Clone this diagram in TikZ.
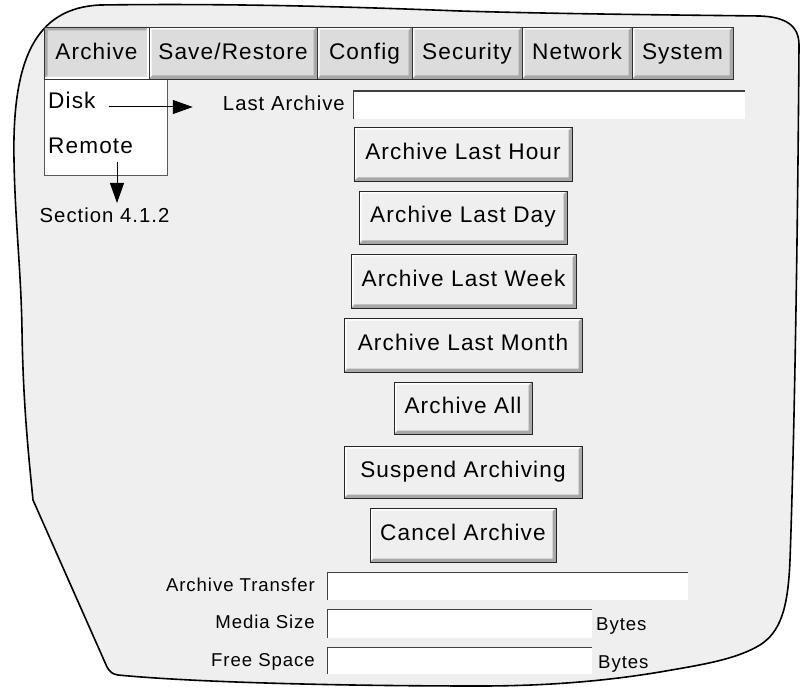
\documentclass[tikz,border=0pt]{standalone}
\usepackage{fontspec}
\newfontfamily\uifont{Liberation Sans}[LetterSpace=5]
\usetikzlibrary{positioning,arrows.meta}

\definecolor{panelgray}{HTML}{EFEFEF}
\definecolor{tabgray}{HTML}{DCDCDC}
\definecolor{shadegray}{HTML}{A8A8A8}
\definecolor{edgegray}{HTML}{404040}

% raised / sunken edge: top-left colour and width, bottom-right colour and width
\newcommand{\bevel}[4]{%
  \fill[#1] (path picture bounding box.south west) -- (path picture bounding box.north west)
    -- (path picture bounding box.north east) -- ([shift={(-#2,-#2)}]path picture bounding box.north east)
    -- ([shift={(#2,-#2)}]path picture bounding box.north west) -- ([shift={(#2,#2)}]path picture bounding box.south west) -- cycle;
  \fill[#3] (path picture bounding box.north east) -- (path picture bounding box.south east)
    -- (path picture bounding box.south west) -- ([shift={(#4,#4)}]path picture bounding box.south west)
    -- ([shift={(-#4,#4)}]path picture bounding box.south east) -- ([shift={(-#4,-#4)}]path picture bounding box.north east) -- cycle;
}

\tikzset{
  ui/.style={font=\uifont\fontsize{22.6}{27}\selectfont},
  small/.style={font=\uifont\fontsize{20.3}{24}\selectfont},
  tiny/.style={font=\uifont\fontsize{18.6}{22}\selectfont},
  lbl/.style={inner sep=0pt},
  tabbase/.style={ui, draw=black!80, line width=0.9pt, fill=tabgray, minimum height=52,
    inner sep=0pt, outer sep=0pt, anchor=west, text height=16pt, text depth=2pt},
  tab/.style={tabbase, path picture={\bevel{white}{2.5pt}{shadegray}{3.5pt}}},
  tabdown/.style={tabbase, path picture={\bevel{shadegray}{3.5pt}{white}{2pt}}},
  btn/.style={ui, draw=black!85, line width=0.9pt, fill=panelgray, inner sep=0pt,
    text height=16pt, text depth=5pt, path picture={\bevel{white}{2.5pt}{shadegray}{3.5pt}}},
  field/.style={fill=white, inner sep=0pt,
    path picture={\draw[edgegray, line width=2.4pt] (path picture bounding box.south west)
      -- (path picture bounding box.north west) -- (path picture bounding box.north east);}},
  menu/.style={fill=white, draw=black!65, line width=0.8pt, inner sep=0pt},
  arr/.style={line width=1pt, -{Triangle[length=20pt, width=14pt]}}
}

\begin{document}
\begin{tikzpicture}[x=1pt, y=-1pt]
\useasboundingbox (0,0) rectangle (801,687);

% panel outline
\draw[line width=1.6pt, fill=panelgray] (100,5) .. controls (250,3) and (380,8) .. (460,11)
  .. controls (560,14) and (680,15) .. (760,16)
  .. controls (785,17) and (799,25) .. (799,45)
  .. controls (798,200) and (795,420) .. (790,560)
  .. controls (788,610) and (780,632) .. (760,645)
  .. controls (735,660) and (700,665) .. (660,672)
  .. controls (600,682) and (540,686) .. (480,686)
  .. controls (330,686) and (190,682) .. (118,675)
  .. controls (112,674) and (110,672) .. (107,667)
  -- (33,500)
  .. controls (28,450) and (23,400) .. (22,330)
  .. controls (21,270) and (15,220) .. (14,160)
  .. controls (12,60) and (35,8) .. (100,5) -- cycle;

% menu bar
\node[menu, minimum width=123, minimum height=96] (menu) at (105.5,127) {};
\node[tabdown, minimum width=105] (tArchive) at (44,53) {Archive};
\node[tab, minimum width=168, right=0pt of tArchive] (tSave) {Save/Restore};
\node[tab, minimum width=95, right=0pt of tSave] (tConfig) {Config};
\node[tab, minimum width=110, right=0pt of tConfig] (tSecurity) {Security};
\node[tab, minimum width=110, right=0pt of tSecurity] (tNetwork) {Network};
\node[tab, minimum width=101, right=0pt of tNetwork] (tSystem) {System};

\node[ui, lbl, anchor=base west] (disk) at (48,109) {Disk};
\node[ui, lbl, anchor=base west] (remote) at (48,154) {Remote};
\node[small, lbl, anchor=base] (section) at (104.5,223) {Section 4.1.2};

\node[small, lbl, anchor=base east] (lastlbl) at (345,111) {Last Archive};
\node[field, minimum width=392, minimum height=28] (fLast) at (549,105) {};

\draw[arr] ([shift={(13pt,2pt)}]disk.base east) -- ([shift={(-30pt,4pt)}]lastlbl.base west);
\coordinate (remArr) at (117,162);
\coordinate (remTip) at (117,203);
\draw[arr] (remArr) -- (remTip);

% buttons
\node[btn, minimum width=218, minimum height=54] (bHour) at (463,154) {Archive Last Hour};
\node[btn, minimum width=208, minimum height=53] (bDay) at (463,217.5) {Archive Last Day};
\node[btn, minimum width=225, minimum height=54] (bWeek) at (463.5,281) {Archive Last Week};
\node[btn, minimum width=238, minimum height=54] (bMonth) at (463,345) {Archive Last Month};
\node[btn, minimum width=138, minimum height=52] (bAll) at (463,408) {Archive All};
\node[btn, minimum width=238, minimum height=52] (bSuspend) at (463,472) {Suspend Archiving};
\node[btn, minimum width=186, minimum height=54] (bCancel) at (463,535) {Cancel Archive};

% status fields
\node[field, minimum width=361, minimum height=28] (fTransfer) at (507.5,586) {};
\node[field, minimum width=265, minimum height=29] (fMedia) at (459.5,623.5) {};
\node[field, minimum width=265, minimum height=27] (fFree) at (459.5,660.5) {};
\node[tiny, lbl, anchor=base east] (transferlbl) at (315,591) {Archive Transfer};
\node[tiny, lbl, anchor=base east] (medialbl) at (315,628) {Media Size};
\node[tiny, lbl, anchor=base east] (freelbl) at (315,666) {Free Space};
\node[tiny, lbl, anchor=base west] (mediaunit) at (596,630) {Bytes};
\node[tiny, lbl, anchor=base west] (freeunit) at (598,668) {Bytes};

\end{tikzpicture}
\end{document}
